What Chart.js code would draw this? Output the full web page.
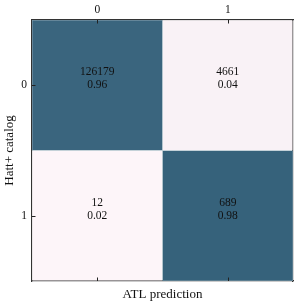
<!DOCTYPE html>
<html>
<head>
<meta charset="utf-8">
<script src="https://cdn.jsdelivr.net/npm/chart.js@4"></script>
<style>
html,body{margin:0;padding:0;background:#fff;}
#wrap{width:298px;height:302px;position:relative;}
</style>
</head>
<body>
<div id="wrap"><canvas id="c" width="298" height="302"></canvas></div>
<script>
const xLabels = ['0', '1'];
const yLabels = ['0', '1'];
const counts = [[126179, 4661], [12, 689]];
const rates = [[0.96, 0.04], [0.02, 0.98]];
const xTitle = 'ATL prediction';
const yTitle = 'Hatt+ catalog';

const lightColor = [253, 245, 249];
const darkColor = [54, 98, 123];
const flat = rates.flat();
const vMin = Math.min(...flat), vMax = Math.max(...flat);
function cellColor(v) {
  const t = Math.max(0, Math.min(1, (v - vMin) / (vMax - vMin)));
  const c = lightColor.map((l, i) => Math.round(l + (darkColor[i] - l) * t));
  return `rgb(${c[0]},${c[1]},${c[2]})`;
}

const datasets = yLabels.map((yl, r) => ({
  label: yl,
  data: xLabels.map(() => [r - 0.5, r + 0.5]),
  backgroundColor: xLabels.map((_, c) => cellColor(rates[r][c])),
  borderColor: xLabels.map((_, c) => rates[r][c] > 0.5 ? 'rgba(140,165,180,0.9)' : 'rgba(0,0,0,0)'),
  borderWidth: 0.8,
  borderSkipped: false,
  barPercentage: 1,
  categoryPercentage: 1,
  grouped: false
}));

const serif = "'Liberation Serif', 'DejaVu Serif', serif";
const W = 298, H = 302;
const L = 32, R = 293, T = 20, B = 281;

const cellText = {
  id: 'cellText',
  afterDatasetsDraw(chart) {
    const ctx = chart.ctx;
    const xs = chart.scales.x, ys = chart.scales.y;
    ctx.save();
    ctx.fillStyle = '#111';
    ctx.font = '11.5px ' + serif;
    ctx.textAlign = 'center';
    ctx.textBaseline = 'middle';
    yLabels.forEach((_, r) => {
      xLabels.forEach((_, c) => {
        const px = xs.getPixelForValue(c);
        const py = ys.getPixelForValue(r);
        ctx.fillText(String(counts[r][c]), px, py - 13);
        ctx.fillText(rates[r][c].toFixed(2), px, py);
      });
    });
    const a = chart.chartArea;
    ctx.strokeStyle = '#222';
    ctx.lineWidth = 1;
    ctx.beginPath();
    xLabels.forEach((_, c) => {
      const px = Math.round(xs.getPixelForValue(c)) + 0.5;
      ctx.moveTo(px, a.top); ctx.lineTo(px, a.top + 3.5);
      ctx.moveTo(px, a.bottom); ctx.lineTo(px, a.bottom - 3.5);
    });
    yLabels.forEach((_, r) => {
      const py = Math.round(ys.getPixelForValue(r)) + 0.5;
      ctx.moveTo(a.left, py); ctx.lineTo(a.left + 3.5, py);
    });
    ctx.stroke();
    ctx.restore();
  }
};

new Chart(document.getElementById('c'), {
  type: 'bar',
  data: { labels: xLabels, datasets },
  options: {
    responsive: false,
    animation: false,
    layout: { padding: 0 },
    plugins: { legend: { display: false }, tooltip: { enabled: false } },
    scales: {
      x: {
        type: 'category',
        position: 'top',
        offset: true,
        grid: { display: false, drawTicks: false },
        border: { display: true, color: '#333', width: 1.2 },
        ticks: { color: '#111', font: { family: serif, size: 11.5 }, padding: 3 },
        afterFit: s => { s.height = T; }
      },
      x2: {
        type: 'category',
        position: 'bottom',
        labels: xLabels,
        offset: true,
        grid: { display: false, drawTicks: false },
        border: { display: true, color: '#333', width: 1.2 },
        ticks: { display: false },
        title: { display: true, text: xTitle, color: '#111', font: { family: serif, size: 13 }, padding: { top: 2, bottom: 0 } },
        afterFit: s => { s.height = H - B; }
      },
      y: {
        type: 'linear',
        position: 'left',
        min: -0.5, max: 1.5,
        reverse: true,
        grid: { display: false, drawTicks: false },
        border: { display: true, color: '#333', width: 1.2 },
        afterBuildTicks: s => { s.ticks = yLabels.map((_, i) => ({ value: i })); },
        ticks: { color: '#111', font: { family: serif, size: 11.5 }, padding: 5, callback: v => yLabels[v] },
        title: { display: true, text: yTitle, color: '#111', font: { family: serif, size: 13 }, padding: { top: 2, bottom: 0 } },
        afterFit: s => { s.width = L; }
      },
      y2: {
        type: 'linear',
        position: 'right',
        min: -0.5, max: 1.5,
        grid: { display: false, drawTicks: false },
        border: { display: true, color: '#333', width: 1.2 },
        ticks: { display: false },
        afterFit: s => { s.width = W - R; }
      }
    }
  },
  plugins: [cellText]
});
</script>
</body>
</html>
